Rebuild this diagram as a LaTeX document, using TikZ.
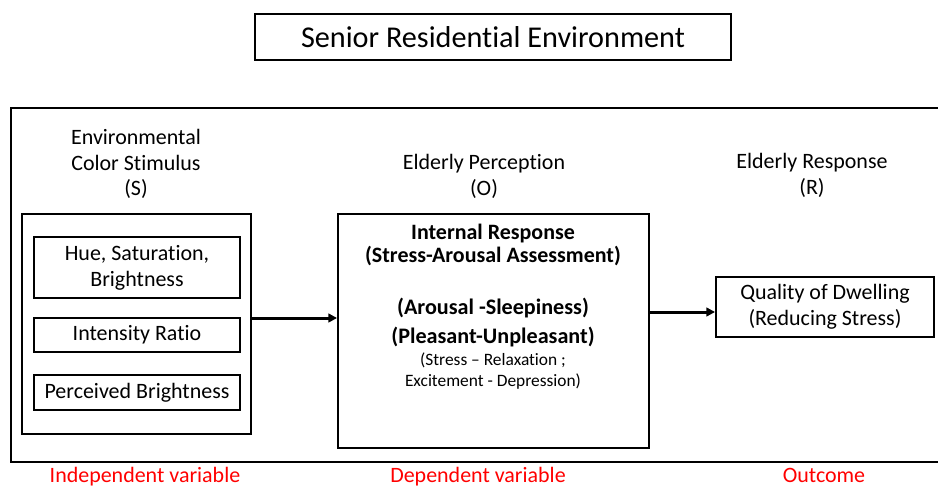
\documentclass[tikz,border=0pt]{standalone}
\usepackage{fontspec}
\setmainfont{Carlito}[Ligatures={NoCommon}]
\usetikzlibrary{arrows.meta}
\definecolor{LabelRed}{HTML}{FF0000}
\tikzset{
    every node/.style={font=\fontsize{12.5}{14.7}\selectfont, align=center, inner sep=0pt},
    plainbox/.style={
        draw=black, line width=1.1pt, fill=white,
        minimum width=#1, sharp corners
    },
    flowarrow/.style={
        -{Triangle[length=5pt,width=5pt]}, line width=1.7pt
    },
    varlabel/.style={
        text=LabelRed, font=\fontsize{12.5}{14}\selectfont, anchor=base
    },
}
\begin{document}
\begin{tikzpicture}[x=0.02cm, y=-0.02cm]
    \useasboundingbox (0,0) rectangle (938,488);
    \clip (0,0) rectangle (938,488);

    % Title
    \node[plainbox=9.52cm, minimum height=0.92cm, font=\fontsize{17.2}{20}\selectfont]
        (title) at (493,37) {Senior Residential Environment};

    % Outer frame (runs off the right edge)
    \draw[line width=1.1pt] (960,108) -- (11,108) -- (11,462) -- (960,462);

    % Stimulus (S)
    \node (stimHead) at (136,164) {Environmental\\Color Stimulus\\(S)};
    \node[plainbox=4.58cm, minimum height=4.4cm] (stim) at (136.5,324) {};
    \node[plainbox=4.12cm, minimum height=1.22cm] (hue) at (137,267.5) {Hue, Saturation,\\Brightness};
    \node[plainbox=4.12cm, minimum height=0.68cm] (ratio) at (137,335) {Intensity Ratio};
    \node[plainbox=4.12cm, minimum height=0.70cm] (bright) at (137,392.5) {Perceived Brightness};

    % Perception (O)
    \node (percHead) at (484,176.5) {Elderly Perception\\(O)};
    \node[plainbox=6.22cm, minimum height=4.68cm] (perc) at (493.5,331) {};
    \node[font=\fontsize{12.5}{13.6}\selectfont\bfseries] (percA) at (493,245)
        {Internal Response\\(Stress-Arousal Assessment)};
    \node[font=\fontsize{12.6}{16.4}\selectfont\bfseries] (percB) at (493,322.5)
        {(Arousal -Sleepiness)\\(Pleasant-Unpleasant)};
    \node[font=\fontsize{9.9}{11.9}\selectfont] (percC) at (493,371)
        {(Stress -- Relaxation ;\\Excitement - Depression)};

    % Response (R)
    \node (respHead) at (812,175.5) {Elderly Response\\(R)};
    \node[plainbox=4.36cm, minimum height=1.2cm] (qual) at (825,307) {Quality of Dwelling\\(Reducing Stress)};

    % Arrows
    \draw[flowarrow] (stim.east |- 0,318) -- (perc.west |- 0,318);
    \draw[flowarrow] (perc.east |- 0,312) -- (qual.west |- 0,312);

    % Variable labels
    \node[varlabel] (indep) at (145,482) {Independent variable};
    \node[varlabel] (dep) at (478,482) {Dependent variable};
    \node[varlabel] (outc) at (824,482) {Outcome};
\end{tikzpicture}
\end{document}
